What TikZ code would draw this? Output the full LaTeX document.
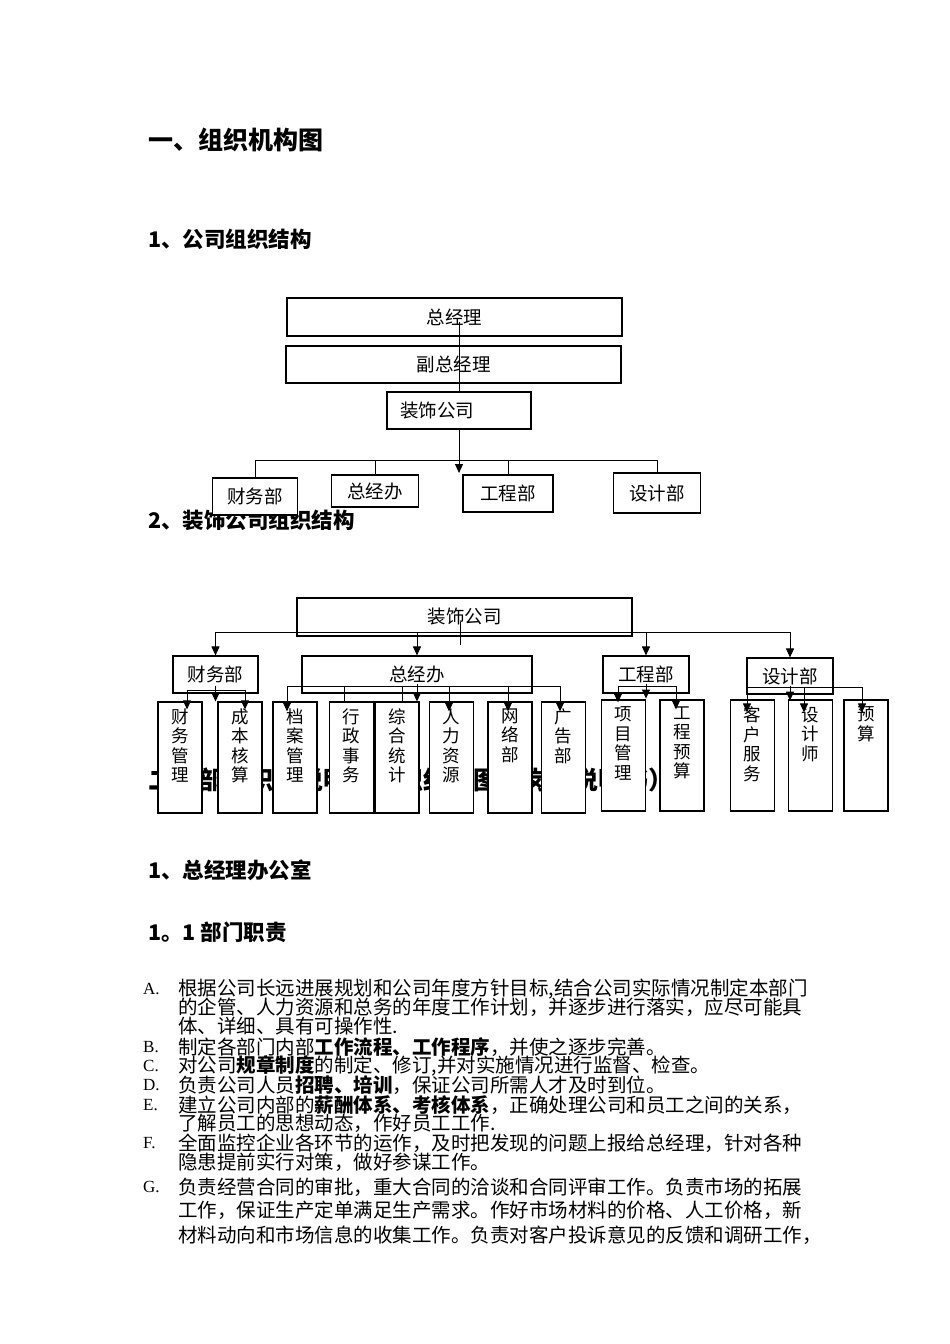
\documentclass[tikz,border=0pt]{standalone}
\usepackage{fontspec}
\usetikzlibrary{arrows.meta}
\newfontfamily\cjk{Noto Sans CJK SC}
\newfontfamily\latn{Liberation Serif}

\begin{document}
\begin{tikzpicture}[x=1pt,y=-1pt,
box/.style={draw,line width=1.1pt,fill=white,inner sep=0pt,font=\cjk\fontsize{18.5}{20}\selectfont},
subbox/.style={draw,line width=1.1pt,fill=white,minimum width=44pt,minimum height=111pt,inner sep=0pt},
vtxt/.style={anchor=north,align=center,inner sep=0pt,font=\cjk\fontsize{17.5}{19.5}\selectfont},
ln/.style={line width=.9pt},
arr/.style={-{Triangle[width=8pt,length=9pt]},line width=.9pt},
hA/.style={anchor=west,inner sep=0pt,font=\cjk\bfseries\fontsize{25}{25}\selectfont},
hB/.style={anchor=west,inner sep=0pt,font=\cjk\bfseries\fontsize{21.5}{22}\selectfont},
txt/.style={anchor=west,inner sep=0pt,font=\cjk\fontsize{19.5}{20}\selectfont},
lbl/.style={anchor=west,inner sep=0pt,font=\latn\fontsize{17}{18}\selectfont}]

\fill[white](0,0)rectangle(950,1344);
\useasboundingbox(0,0)rectangle(950,1344);

% headings
\node[hA] (h1) at (148,140) {一、组织机构图};
\node[hB] (h11) at (148,239) {1、公司组织结构};
\node[hB] (h12) at (148,520) {2、装饰公司组织结构};
\node[hA] (h2) at (148,780) {二、部门职能说明（组织结构图及岗位说明书）};
\node[hB] (h21) at (148,870) {1、总经理办公室};
\node[hB] (h211) at (148,932) {1。1 部门职责};

% chart 1
\node[box,minimum width=335pt,minimum height=38pt] (zjl) at (454.5,317) {总经理};
\node[box,minimum width=335pt,minimum height=37pt] (fzjl) at (453.5,364.5) {副总经理};
\node[box,minimum width=144pt,minimum height=37pt,text width=118pt,align=left] (zs1) at (459,410.5) {装饰公司};
\node[box,minimum width=85pt,minimum height=37pt] (cw1) at (255,496.5) {财务部};
\node[box,minimum width=87pt,minimum height=32pt] (zb1) at (375,491) {总经办};
\node[box,minimum width=90pt,minimum height=37pt] (gc1) at (508,493.5) {工程部};
\node[box,minimum width=87pt,minimum height=40pt] (sj1) at (657,493) {设计部};

\coordinate (j1) at ([yshift=-5pt]zjl.center);
\draw[ln] (j1 -| zs1.north) -- (zs1.north);
\coordinate (t1) at (459,473);
\draw[arr] (zs1.south) -- (t1);
\coordinate (bar1) at (0,460);
\draw[ln] (cw1.north) -- (cw1.north |- bar1) -- (sj1.north |- bar1) -- (sj1.north);
\draw[ln] (zb1.north |- bar1) -- (zb1.north);
\draw[ln] (gc1.north |- bar1) -- (gc1.north);

% chart 2
\node[box,minimum width=335pt,minimum height=38pt] (zs2) at (464.5,617) {装饰公司};
\node[box,minimum width=85pt,minimum height=37pt] (cw2) at (215.5,674.5) {财务部};
\node[box,minimum width=230pt,minimum height=37pt] (zb2) at (417,674.5) {总经办};
\node[box,minimum width=86pt,minimum height=37pt] (gc2) at (646,674.5) {工程部};
\node[box,minimum width=86pt,minimum height=36pt] (sj2) at (790,676) {设计部};

\foreach \n/\x/\y/\t in {cwgl/180/757.5/{财\\务\\管\\理}, cbhs/240/757.5/{成\\本\\核\\算},
  dagl/295/757.5/{档\\案\\管\\理}, xzsw/351.5/757.5/{行\\政\\事\\务}, zhtj/397/757.5/{综\\合\\统\\计},
  rlzy/451.5/757.5/{人\\力\\资\\源}, wlb/510/757.5/{网\\络\\部}, ggb/563.5/757.5/{广\\告\\部},
  xmgl/623.5/755.5/{项\\目\\管\\理}, gcys/682/755.5/{工\\程\\预\\算},
  khfw/752.5/755.5/{客\\户\\服\\务}, sjs/810.5/755.5/{设\\计\\师}, ys/866/755.5/{预\\算}}{
  \node[subbox] (\n) at (\x,\y) {};
  \node[vtxt] (\n-t) at ([yshift=-7pt]\n.north) {\t};
}

\coordinate (bar2) at (0,632);
\coordinate (j2) at ([shift={(-4.5,5)}]zs2.center);
\draw[ln] (j2) -- ++(0,23);
\draw[ln] (cw2.north |- bar2) -- (sj2.north |- bar2);
\foreach \d in {cw2,zb2,gc2,sj2} \draw[arr] (\d.north |- bar2) -- (\d.north);

% finance
\coordinate (cwbar) at (0,690);
\draw[ln] ([xshift=7pt]cwgl.north |- cwbar) -- ([xshift=5pt]cbhs.north |- cwbar);
\draw[arr] ([xshift=7pt]cwgl.north |- cwbar) -- ([xshift=7pt,yshift=-8pt]cwgl.north);
\draw[arr] ([xshift=5pt]cbhs.north |- cwbar) -- ([xshift=5pt,yshift=-8pt]cbhs.north);
\draw[arr] ([yshift=8pt]cw2.south) -- ++(0,16);

% office
\coordinate (zbbar) at (0,686);
\draw[ln] ([xshift=-8pt]dagl.north |- zbbar) -- ([xshift=-3.5pt]ggb.north |- zbbar);
\foreach \n/\dx in {dagl/-8,rlzy/-2.5,wlb/-2,ggb/-3.5}
  \draw[arr] ([xshift=\dx pt]\n.north |- zbbar) -- ([xshift=\dx pt,yshift=-10pt]\n.north);
\foreach \n/\dx in {xzsw/-7.5,zhtj/5}
  \draw[ln] ([xshift=\dx pt]\n.north |- zbbar) -- ([xshift=\dx pt]\n.north);
\draw[arr] ([yshift=10pt]zb2.south) -- ++(0,18);

% works
\coordinate (gcbar) at (0,686);
\draw[ln] ([xshift=-5.5pt]xmgl.north |- gcbar) -- ([xshift=-6pt]gcys.north |- gcbar);
\draw[arr] ([xshift=-5.5pt]xmgl.north |- gcbar) -- ([xshift=-5.5pt,yshift=-3pt]xmgl.north);
\draw[arr] ([xshift=-6pt]gcys.north |- gcbar) -- ([xshift=-6pt,yshift=-10pt]gcys.north);
\draw[arr] ([yshift=10pt]gc2.south) -- ++(0,15);

% design
\coordinate (sjbar) at (0,687);
\draw[ln] ([xshift=-5.5pt]khfw.north |- sjbar) -- ([xshift=-4pt]ys.north |- sjbar);
\foreach \n/\dx in {khfw/-5.5,sjs/-6.5,ys/-4}
  \draw[arr] ([xshift=\dx pt]\n.north |- sjbar) -- ([xshift=\dx pt,yshift=-13pt]\n.north);
\draw[arr] ([yshift=9pt]sj2.south) -- ++(0,15);

% duties
\foreach \y/\l in {989/A., 1047/B., 1066/C., 1085/D., 1105/E., 1143/F., 1187/G.}
  \node[lbl] (m\y) at (143,\y) {\l};
\foreach \y/\t in {989/{根据公司长远进展规划和公司年度方针目标,结合公司实际情况制定本部门},
  1007/{的企管、人力资源和总务的年度工作计划，并逐步进行落实，应尽可能具},
  1026/{体、详细、具有可操作性.},
  1047/{制定各部门内部\textbf{工作流程、工作程序}，并使之逐步完善。},
  1066/{对公司\textbf{规章制度}的制定、修订,并对实施情况进行监督、检查。},
  1085/{负责公司人员\textbf{招聘、培训}，保证公司所需人才及时到位。},
  1105/{建立公司内部的\textbf{薪酬体系、考核体系}，正确处理公司和员工之间的关系，},
  1123/{了解员工的思想动态，作好员工工作.},
  1143/{全面监控企业各环节的运作，及时把发现的问题上报给总经理，针对各种},
  1162/{隐患提前实行对策，做好参谋工作。},
  1187/{负责经营合同的审批，重大合同的洽谈和合同评审工作。负责市场的拓展},
  1210/{工作，保证生产定单满足生产需求。作好市场材料的价格、人工价格，新},
  1235/{材料动向和市场信息的收集工作。负责对客户投诉意见的反馈和调研工作，}}
  \node[txt] (l\y) at (178,\y) {\t};
\end{tikzpicture}
\end{document}
